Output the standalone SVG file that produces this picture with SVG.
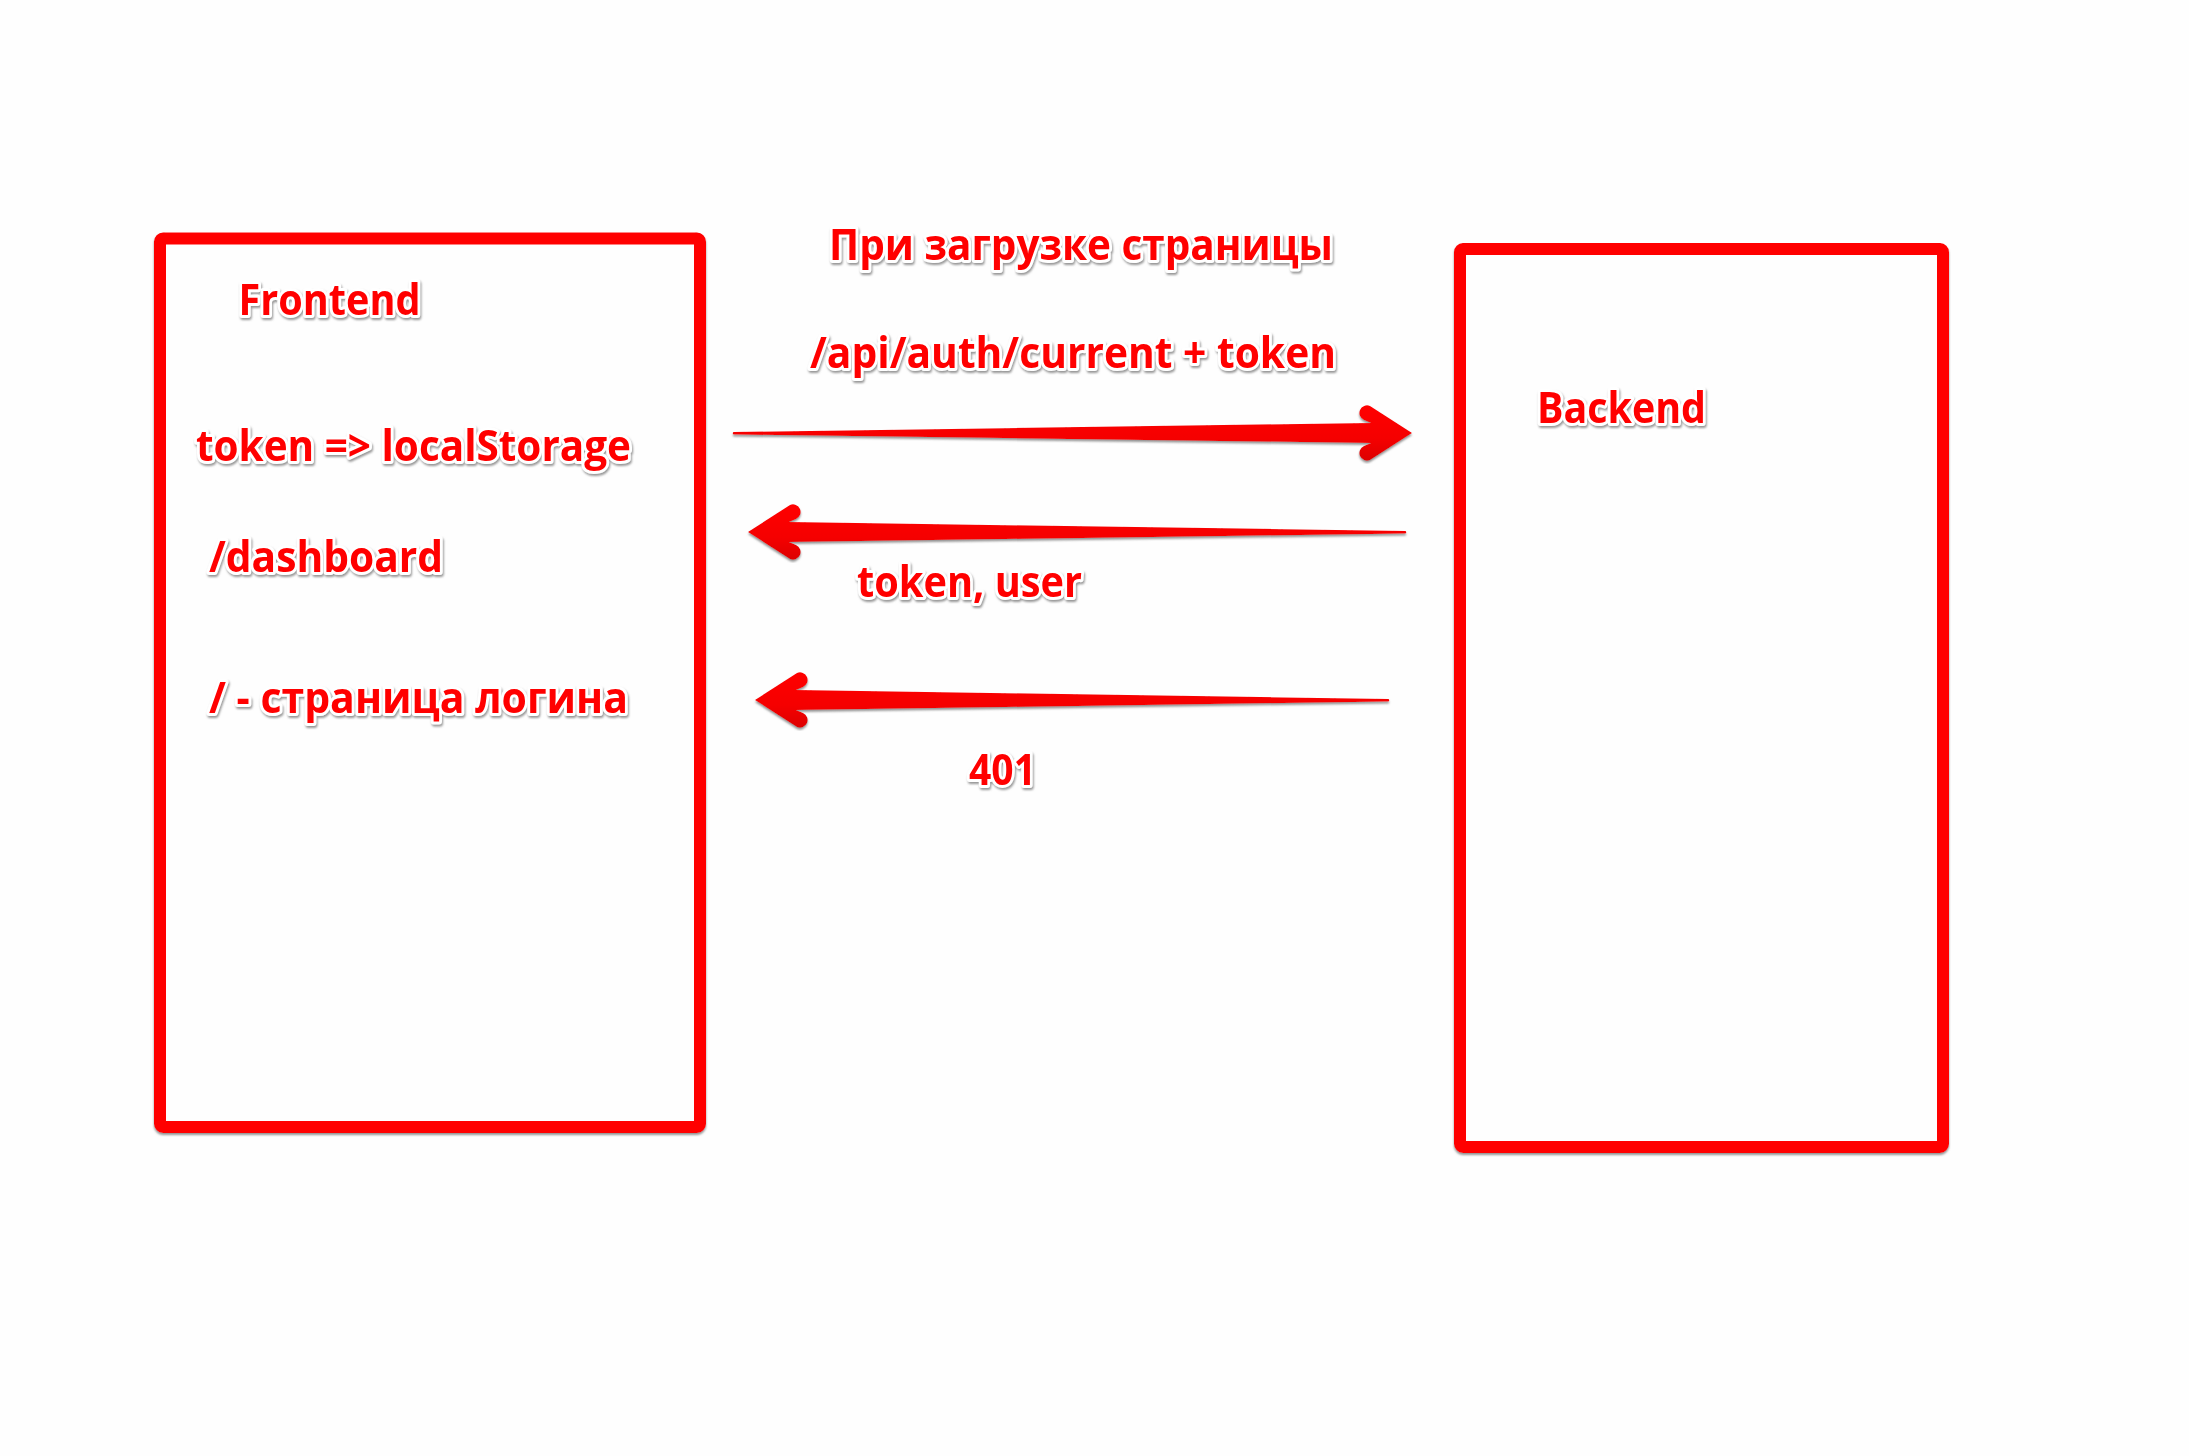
<svg xmlns="http://www.w3.org/2000/svg" width="2189" height="1456" viewBox="0 0 2189 1456">
  <defs>
    <filter id="ts" x="-10%" y="-30%" width="120%" height="160%">
      <feDropShadow dx="1" dy="2" stdDeviation="1" flood-color="#8a8a8a" flood-opacity="0.9"/>
    </filter>
    <filter id="bs" x="-5%" y="-5%" width="110%" height="110%">
      <feDropShadow dx="0" dy="2" stdDeviation="0.8" flood-color="#777" flood-opacity="0.8"/>
    </filter>
    <linearGradient id="ag" x1="0" y1="0" x2="0" y2="1">
      <stop offset="0" stop-color="#ff0000"/>
      <stop offset="0.6" stop-color="#f50000"/>
      <stop offset="1" stop-color="#dd0000"/>
    </linearGradient>
  </defs>
  <style>
    .box { fill: #fefefe; stroke: #ff0000; stroke-width: 12; stroke-linejoin: round; filter: url(#bs); }
    .lbl { font-family: "Open Sans", "Noto Sans", "DejaVu Sans", sans-serif; font-weight: bold; font-size: 43px; fill: #ff0000; stroke: #ffffff; stroke-width: 6; stroke-linejoin: round; paint-order: stroke; filter: url(#ts); }
    .arrow { fill: url(#ag); stroke: none; filter: url(#bs); }
  </style>
  <rect x="0" y="0" width="2189" height="1456" fill="#fefefe"/>

  <g id="frontend">
    <rect class="box" x="160" y="238.5" width="540" height="888.5" rx="3"/>
    <text class="lbl" x="238.5" y="315" textLength="182" lengthAdjust="spacingAndGlyphs">Frontend</text>
    <text class="lbl" x="196" y="461" textLength="435" lengthAdjust="spacingAndGlyphs">token =&gt; localStorage</text>
    <text class="lbl" x="209" y="572" textLength="234" lengthAdjust="spacingAndGlyphs">/dashboard</text>
    <text class="lbl" x="209" y="713" textLength="419" lengthAdjust="spacingAndGlyphs">/ - страница логина</text>
  </g>

  <g id="backend">
    <rect class="box" x="1460" y="249" width="483" height="898" rx="3"/>
    <text class="lbl" x="1537" y="423" textLength="169" lengthAdjust="spacingAndGlyphs">Backend</text>
  </g>

  <g id="connectors">
    <path class="arrow" d="M 734,432 L 1371,423 L 1364,420 A 7.5 7.5 0 0 1 1370,406 L 1412,433 L 1370,460 A 7.5 7.5 0 0 1 1364,446 L 1371,443 L 734,434.5 A 1.2 1.2 0 0 1 734,432 Z"/>
    <path class="arrow" d="M 1405,531 L 789,522 L 796,519 A 7.5 7.5 0 0 0 790,505 L 748,532 L 790,559 A 7.5 7.5 0 0 0 796,545 L 789,542 L 1405,533.5 A 1.2 1.2 0 0 0 1405,531 Z"/>
    <path class="arrow" d="M 1388,699 L 796,690 L 803,687 A 7.5 7.5 0 0 0 797,673 L 755,700 L 797,727 A 7.5 7.5 0 0 0 803,713 L 796,710 L 1388,701.5 A 1.2 1.2 0 0 0 1388,699 Z"/>
  </g>

  <g id="labels">
    <text class="lbl" x="829" y="260" textLength="504" lengthAdjust="spacingAndGlyphs">При загрузке страницы</text>
    <text class="lbl" x="810" y="368" textLength="526" lengthAdjust="spacingAndGlyphs">/api/auth/current + token</text>
    <text class="lbl" x="857" y="597" textLength="225" lengthAdjust="spacingAndGlyphs">token, user</text>
    <text class="lbl" x="969" y="785" textLength="67" lengthAdjust="spacingAndGlyphs">401</text>
  </g>
</svg>
